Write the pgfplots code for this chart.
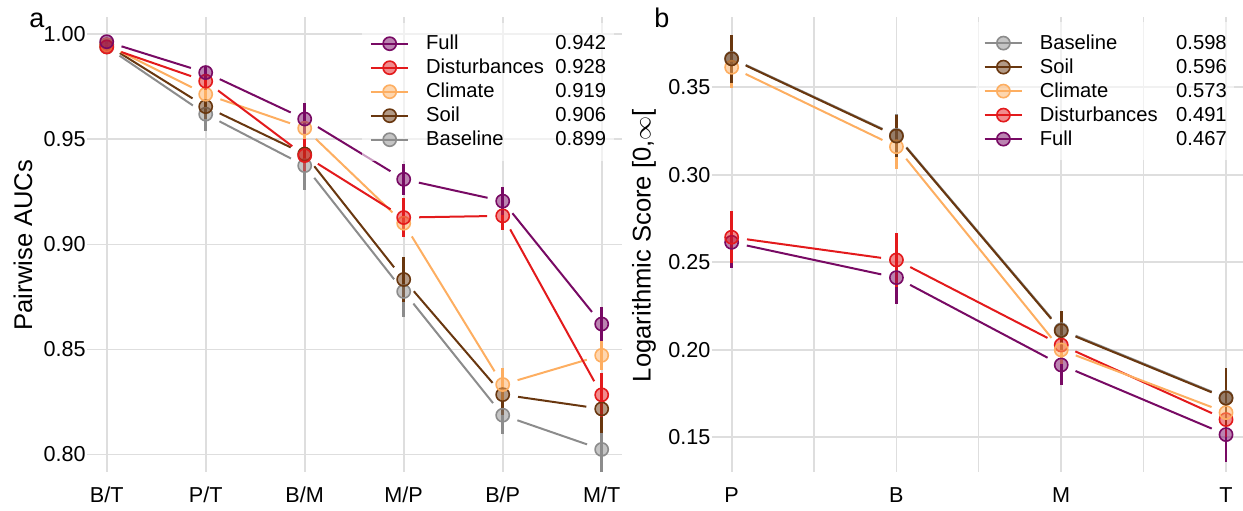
\documentclass[border=0pt]{standalone}
\usepackage{pgfplots}
\pgfplotsset{compat=1.18}
\usepackage{fontspec}
\setmainfont{Liberation Sans}
\definecolor{cFull}{RGB}{120,10,100}
\definecolor{cDist}{RGB}{227,26,28}
\definecolor{cClim}{RGB}{253,174,97}
\definecolor{cSoil}{RGB}{105,55,15}
\definecolor{cBase}{RGB}{140,140,140}
\definecolor{gridc}{RGB}{222,222,222}
\newcommand\tfont{\fontsize{10.8}{12}\selectfont}
\newcommand\lfont{\fontsize{10.1}{12}\selectfont}
\newcommand\afont{\fontsize{12.8}{15}\selectfont}
\tikzset{lg/.style={#1, line width=1pt, mark=*, mark size=3.3pt, mark options={fill=#1, fill opacity=0.5, draw=#1, line width=0.8pt, solid}}}
\pgfplotsset{
  seg/.style={#1, line width=1pt, shorten <=7.75pt, shorten >=7.75pt, mark=none, forget plot},
  pts/.style={only marks, mark=*, mark size=3.3pt, color=#1,
    mark options={fill=#1, fill opacity=0.5, draw=#1, line width=0.8pt},
    forget plot,
    error bars/y dir=both, error bars/y explicit, error bars/error mark=none,
    error bars/error bar style={line width=1.3pt, color=#1}},
  base/.style={scale only axis, axis line style={draw=none}, tick style={draw=none},
    xmajorgrids, ymajorgrids,
    major grid style={color=gridc, line width=0.9pt},
    minor grid style={color=gridc, line width=0.6pt},
    tick label style={font=\tfont},
    /pgf/number format/assume math mode=true,
    label style={font=\afont},
    yticklabel style={/pgf/number format/fixed, /pgf/number format/fixed zerofill, /pgf/number format/precision=2, anchor=east, inner xsep=0.5pt},
    xticklabel style={anchor=base, yshift=-15.2pt},
    legend cell align=left,
    legend image code/.code={\draw[##1, mark repeat=2, mark phase=2] plot coordinates {(0pt,0pt) (9.35pt,0pt) (18.7pt,0pt)};},
    legend style={anchor=north west, fill=white, fill opacity=0.6, text opacity=1, draw=none,
      font=\lfont, inner xsep=3.8pt, inner ysep=4.5pt, row sep=0pt, column sep=0pt,
      nodes={inner xsep=0pt, inner ysep=0pt, text height=9pt, text depth=3pt}},
  }
}
\begin{document}
\begin{tikzpicture}
\path[use as bounding box] (0,0) rectangle (621.5pt,-255pt);
% ---------------- panel a ----------------
\begin{axis}[base, at={(43.5pt,-8.35pt)}, anchor=north west,
  width=267.35pt, height=227.5pt,
  xmin=0.801, xmax=6.202, ymin=0.7918, ymax=1.0084,
  xtick={1,2,3,4,5,6}, xticklabels={B/T,P/T,B/M,M/P,B/P,M/T},
  ytick={0.80,0.85,0.90,0.95,1.00},
  ylabel={Pairwise AUCs},
  ylabel style={at={(axis description cs:-0.1197,0.498)}, anchor=center},
  legend style={at={(axis description cs:0.5143,0.9877)}},
]
\addlegendimage{lg=cFull}\addlegendentry{\hspace{8.35pt}\makebox[64.7pt][l]{Full}0.942}
\addlegendimage{lg=cDist}\addlegendentry{\hspace{8.35pt}\makebox[64.7pt][l]{Disturbances}0.928}
\addlegendimage{lg=cClim}\addlegendentry{\hspace{8.35pt}\makebox[64.7pt][l]{Climate}0.919}
\addlegendimage{lg=cSoil}\addlegendentry{\hspace{8.35pt}\makebox[64.7pt][l]{Soil}0.906}
\addlegendimage{lg=cBase}\addlegendentry{\hspace{8.35pt}\makebox[64.7pt][l]{Baseline}0.899}
% Baseline
\addplot[seg=cBase] coordinates {(1,0.994) (2,0.962)};
\addplot[seg=cBase] coordinates {(2,0.962) (3,0.9375)};
\addplot[seg=cBase] coordinates {(3,0.9375) (4,0.8776)};
\addplot[seg=cBase] coordinates {(4,0.8776) (5,0.8187)};
\addplot[seg=cBase] coordinates {(5,0.8187) (6,0.8024)};
\addplot[pts=cBase] coordinates {(1,0.994) +- (0,0.001) (2,0.962) +- (0,0.008) (3,0.9375) +- (0,0.0115) (4,0.8776) +- (0,0.012) (5,0.8187) +- (0,0.009) (6,0.8024) +- (0,0.011)};
% Soil
\addplot[seg=cSoil] coordinates {(1,0.995) (2,0.9656)};
\addplot[seg=cSoil] coordinates {(2,0.9656) (3,0.943)};
\addplot[seg=cSoil] coordinates {(3,0.943) (4,0.8833)};
\addplot[seg=cSoil] coordinates {(4,0.8833) (5,0.8285)};
\addplot[seg=cSoil] coordinates {(5,0.8285) (6,0.8217)};
\addplot[pts=cSoil] coordinates {(1,0.995) +- (0,0.001) (2,0.9656) +- (0,0.006) (3,0.943) +- (0,0.006) (4,0.8833) +- (0,0.0105) (5,0.8285) +- (0,0.0095) (6,0.8217) +- (0,0.0115)};
% Climate
\addplot[seg=cClim] coordinates {(1,0.995) (2,0.9715)};
\addplot[seg=cClim] coordinates {(2,0.9715) (3,0.9553)};
\addplot[seg=cClim] coordinates {(3,0.9553) (4,0.9101)};
\addplot[seg=cClim] coordinates {(4,0.9101) (5,0.8333)};
\addplot[seg=cClim] coordinates {(5,0.8333) (6,0.8472)};
\addplot[pts=cClim] coordinates {(1,0.995) +- (0,0.001) (2,0.9715) +- (0,0.003) (3,0.9553) +- (0,0.005) (4,0.9101) +- (0,0.006) (5,0.8333) +- (0,0.008) (6,0.8472) +- (0,0.007)};
% Disturbances
\addplot[seg=cDist] coordinates {(1,0.994) (2,0.9777)};
\addplot[seg=cDist] coordinates {(2,0.9777) (3,0.9423)};
\addplot[seg=cDist] coordinates {(3,0.9423) (4,0.9128)};
\addplot[seg=cDist] coordinates {(4,0.9128) (5,0.9136)};
\addplot[seg=cDist] coordinates {(5,0.9136) (6,0.8284)};
\addplot[pts=cDist] coordinates {(1,0.994) +- (0,0.001) (2,0.9777) +- (0,0.004) (3,0.9423) +- (0,0.008) (4,0.9128) +- (0,0.0095) (5,0.9136) +- (0,0.0065) (6,0.8284) +- (0,0.0105)};
% Full
\addplot[seg=cFull] coordinates {(1,0.9965) (2,0.9818)};
\addplot[seg=cFull] coordinates {(2,0.9818) (3,0.9597)};
\addplot[seg=cFull] coordinates {(3,0.9597) (4,0.931)};
\addplot[seg=cFull] coordinates {(4,0.931) (5,0.9206)};
\addplot[seg=cFull] coordinates {(5,0.9206) (6,0.8621)};
\addplot[pts=cFull] coordinates {(1,0.9965) +- (0,0.001) (2,0.9818) +- (0,0.003) (3,0.9597) +- (0,0.0075) (4,0.931) +- (0,0.0075) (5,0.9206) +- (0,0.0065) (6,0.8621) +- (0,0.0083)};
\end{axis}
% ---------------- panel b ----------------
\begin{axis}[base, at={(355.85pt,-8.35pt)}, anchor=north west,
  width=265.65pt, height=227.5pt,
  xmin=0.879, xmax=4.103, ymin=0.1303, ymax=0.3903,
  xtick={1,2,3,4}, xticklabels={P,B,M,T},
  minor x tick num=1, xminorgrids,
  ytick={0.15,0.20,0.25,0.30,0.35},
  ylabel={Logarithmic Score [0,$\infty$[},
  ylabel style={at={(axis description cs:-0.1274,0.497)}, anchor=center},
  legend style={at={(axis description cs:0.4969,0.989)}},
]
\addlegendimage{lg=cBase}\addlegendentry{\hspace{8.35pt}\makebox[68.2pt][l]{Baseline}0.598}
\addlegendimage{lg=cSoil}\addlegendentry{\hspace{8.35pt}\makebox[68.2pt][l]{Soil}0.596}
\addlegendimage{lg=cClim}\addlegendentry{\hspace{8.35pt}\makebox[68.2pt][l]{Climate}0.573}
\addlegendimage{lg=cDist}\addlegendentry{\hspace{8.35pt}\makebox[68.2pt][l]{Disturbances}0.491}
\addlegendimage{lg=cFull}\addlegendentry{\hspace{8.35pt}\makebox[68.2pt][l]{Full}0.467}
% Baseline
\addplot[seg=cBase] coordinates {(1,0.3665) (2,0.3225)};
\addplot[seg=cBase] coordinates {(2,0.3225) (3,0.2114)};
\addplot[seg=cBase] coordinates {(3,0.2114) (4,0.1727)};
\addplot[pts=cBase] coordinates {(1,0.3665) +- (0,0.0135) (2,0.3225) +- (0,0.012) (3,0.2114) +- (0,0.011) (4,0.1727) +- (0,0.016)};
% Full
\addplot[seg=cFull] coordinates {(1,0.2614) (2,0.2412)};
\addplot[seg=cFull] coordinates {(2,0.2412) (3,0.1913)};
\addplot[seg=cFull] coordinates {(3,0.1913) (4,0.1515)};
\addplot[pts=cFull] coordinates {(1,0.2614) +- (0,0.0148) (2,0.2412) +- (0,0.0148) (3,0.1913) +- (0,0.0115) (4,0.1515) +- (0,0.0155)};
% Disturbances
\addplot[seg=cDist] coordinates {(1,0.2643) (2,0.2513)};
\addplot[seg=cDist] coordinates {(2,0.2513) (3,0.2027)};
\addplot[seg=cDist] coordinates {(3,0.2027) (4,0.1601)};
\addplot[pts=cDist] coordinates {(1,0.2643) +- (0,0.015) (2,0.2513) +- (0,0.0153) (3,0.2027) +- (0,0.01) (4,0.1601) +- (0,0.01)};
% Climate
\addplot[seg=cClim] coordinates {(1,0.3614) (2,0.316)};
\addplot[seg=cClim] coordinates {(2,0.316) (3,0.1999)};
\addplot[seg=cClim] coordinates {(3,0.1999) (4,0.1641)};
\addplot[pts=cClim] coordinates {(1,0.3614) +- (0,0.012) (2,0.316) +- (0,0.0125) (3,0.1999) +- (0,0.008) (4,0.1641) +- (0,0.008)};
% Soil
\addplot[seg=cSoil] coordinates {(1,0.3662) (2,0.3221)};
\addplot[seg=cSoil] coordinates {(2,0.3221) (3,0.2109)};
\addplot[seg=cSoil] coordinates {(3,0.2109) (4,0.1723)};
\addplot[pts=cSoil] coordinates {(1,0.3662) +- (0,0.0135) (2,0.3221) +- (0,0.012) (3,0.2109) +- (0,0.011) (4,0.1723) +- (0,0.017)};
\end{axis}
\node[font=\fontsize{13.5}{16}\selectfont, anchor=base] at (18.5pt,-13.5pt) {a};
\node[font=\fontsize{13.5}{16}\selectfont, anchor=base] at (331pt,-13.5pt) {b};
\end{tikzpicture}
\end{document}
